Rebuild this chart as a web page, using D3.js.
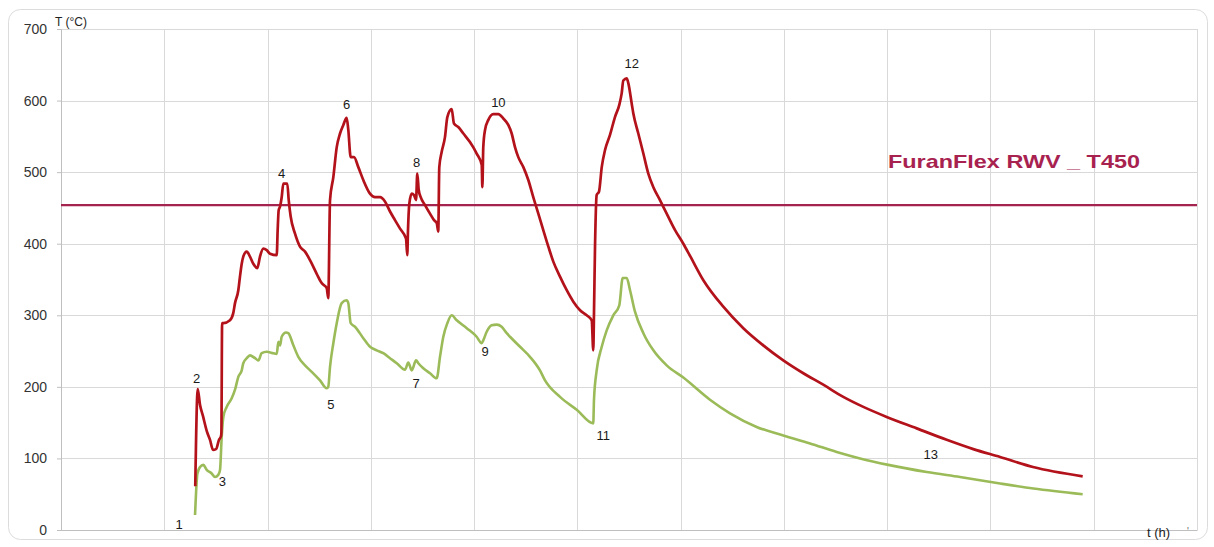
<!DOCTYPE html>
<html>
<head>
<meta charset="utf-8">
<script src="https://cdn.jsdelivr.net/npm/d3@7"></script>
<style>
  html, body { margin: 0; padding: 0; background: #ffffff; }
  svg { display: block; font-family: "Liberation Sans", Arial, sans-serif; }
</style>
</head>
<body>
<svg id="chart" width="1214" height="547"></svg>
<script>
// ---- data (t in hours, T in °C) ----
const redT = [1.30,1.324,1.346,1.375,1.414,1.443,1.472,1.501,1.530,1.549,1.553,1.560,1.572,1.636,1.668,1.685,1.717,1.733,1.750,1.765,1.798,1.830,1.862,1.901,1.927,1.959,1.992,2.024,2.089,2.098,2.108,2.121,2.137,2.153,2.191,2.205,2.224,2.266,2.314,2.363,2.411,2.476,2.524,2.573,2.588,2.605,2.637,2.670,2.702,2.734,2.766,2.782,2.805,2.837,2.879,2.927,2.992,3.040,3.089,3.137,3.186,3.234,3.283,3.341,3.353,3.360,3.373,3.396,3.418,3.438,3.450,3.464,3.483,3.525,3.573,3.612,3.638,3.653,3.663,3.686,3.718,3.741,3.783,3.805,3.847,3.896,3.960,4.025,4.074,4.080,4.089,4.106,4.138,4.186,4.235,4.283,4.331,4.364,4.396,4.428,4.477,4.525,4.573,4.622,4.670,4.719,4.767,4.832,4.897,4.961,5.026,5.090,5.139,5.154,5.161,5.171,5.187,5.210,5.236,5.268,5.316,5.364,5.406,5.429,5.445,5.478,5.494,5.526,5.542,5.590,5.639,5.687,5.736,5.800,5.865,5.946,6.026,6.091,6.220,6.413,6.607,6.800,6.994,7.188,7.381,7.575,7.769,7.995,8.286,8.576,8.834,9.093,9.412,9.893];
const redV = [61,197,175,159,137,126,112,113,126,131,135,289,289,293,303,317,335,354,372,382,389,382,372,366,382,393,391,386,384,419,447,452,465,484,484,461,438,414,396,389,377,358,345,338,324,461,493,535,554,566,576,559,521,521,507,489,470,465,465,459,445,433,421,407,384,419,456,470,468,461,498,475,465,454,442,433,429,417,507,528,549,577,588,568,563,554,542,526,510,479,535,559,573,581,581,575,566,554,535,521,507,489,465,442,419,396,375,354,335,319,307,300,293,251,303,396,468,473,507,531,552,577,594,610,628,631,624,596,582,554,526,498,479,461,442,419,400,383,349,312,282,258,237,219,203,186,172,158,142,126,113,102,88,75];

const greenT = [1.298,1.321,1.346,1.378,1.411,1.459,1.491,1.523,1.540,1.556,1.572,1.604,1.653,1.685,1.717,1.750,1.765,1.798,1.830,1.879,1.911,1.943,1.992,2.056,2.089,2.105,2.121,2.137,2.179,2.201,2.250,2.298,2.363,2.428,2.508,2.573,2.588,2.605,2.637,2.670,2.718,2.766,2.782,2.805,2.847,2.927,2.992,3.057,3.121,3.186,3.251,3.331,3.363,3.396,3.438,3.460,3.508,3.573,3.638,3.670,3.702,3.741,3.783,3.832,3.929,4.025,4.074,4.089,4.122,4.170,4.219,4.267,4.316,4.348,4.445,4.541,4.638,4.687,4.832,4.994,5.154,5.161,5.187,5.236,5.284,5.348,5.406,5.439,5.478,5.510,5.558,5.639,5.736,5.865,6.026,6.284,6.478,6.736,6.994,7.253,7.511,7.737,8.011,8.383,8.705,9.093,9.415,9.893];
const greenV = [21,79,88,91,84,79,74,77,84,130,158,172,184,196,214,223,233,240,244,240,237,247,249,247,246,263,258,270,276,275,258,242,230,221,209,198,200,228,261,289,317,321,317,289,284,268,256,251,247,240,233,224,234,223,237,233,226,219,212,242,270,289,300,293,282,270,261,265,277,286,287,284,275,270,256,242,223,209,186,168,149,182,223,256,279,300,314,352,352,335,305,275,251,230,213,182,163,144,132,121,109,100,91,81,74,65,58,50];

const threshold = 454;
const thresholdName = "FuranFlex RWV _ T450";

const yTicks = [0,100,200,300,400,500,600,700];
const xGrid = [0,1,2,3,4,5,6,7,8,9,10,11];

const labelText = ["1","2","3","4","5","6","7","8","9","10","11","12","13"];
const labelT    = [1.143,1.314,1.562,2.137,2.612,2.766,3.438,3.444,4.106,4.235,5.251,5.526,8.422];
const labelV    = [8,212,68,498,176,595,204,514,249,598,132,652,105];

const yTitle = "T (°C)";
const xTitle = "t (h)";

// ---- drawing ----
const svg = d3.select("#chart");
const x = d3.scaleLinear().domain([0, 11]).range([61, 1197]);
const y = d3.scaleLinear().domain([0, 700]).range([530, 29]);

// outer rounded frame
svg.append("rect")
  .attr("x", 8.5).attr("y", 9.5).attr("width", 1199).attr("height", 530)
  .attr("rx", 12).attr("ry", 12)
  .attr("fill", "#ffffff").attr("stroke", "#dcdcdc").attr("stroke-width", 1);

// horizontal grid
svg.append("g").selectAll("line").data(yTicks).join("line")
  .attr("x1", x(0)).attr("x2", x(11))
  .attr("y1", d => Math.round(y(d)) + 0.5).attr("y2", d => Math.round(y(d)) + 0.5)
  .attr("stroke", "#d9d9d9").attr("stroke-width", 1);

// vertical grid
svg.append("g").selectAll("line").data(xGrid).join("line")
  .attr("x1", d => Math.round(x(d)) + 0.5).attr("x2", d => Math.round(x(d)) + 0.5)
  .attr("y1", y(700)).attr("y2", y(0))
  .attr("stroke", "#d9d9d9").attr("stroke-width", 1);

// left axis with tick labels
const yAxis = d3.axisLeft(y).tickValues(yTicks).tickSize(4).tickPadding(10);
const gy = svg.append("g").attr("transform", `translate(${x(0)},0)`).call(yAxis);
gy.select(".domain").attr("stroke", "#bfbfbf");
gy.selectAll(".tick line").attr("stroke", "#bfbfbf");
gy.selectAll(".tick text").attr("font-size", 14).attr("fill", "#333")
  .attr("font-family", "Liberation Sans, Arial, sans-serif");

// bottom axis line
const xAxis = d3.axisBottom(x).tickValues([]).tickSizeOuter(0);
const gx = svg.append("g").attr("transform", `translate(0,${y(0)})`).call(xAxis);
gx.select(".domain").attr("stroke", "#bfbfbf");

// axis titles
svg.append("text").attr("x", 55).attr("y", 26).attr("font-size", 12).attr("fill", "#222")
  .text(yTitle);
svg.append("text").attr("x", 1147).attr("y", 537).attr("font-size", 13).attr("fill", "#222")
  .text(xTitle);
svg.append("text").attr("x", 1187).attr("y", 535).attr("font-size", 10).attr("fill", "#666")
  .text("'");

// threshold line
svg.append("line")
  .attr("x1", x(0)).attr("x2", x(11))
  .attr("y1", y(threshold)).attr("y2", y(threshold))
  .attr("stroke", "#a4234f").attr("stroke-width", 2.2);
svg.append("text")
  .attr("x", x(8.008)).attr("y", y(506))
  .attr("font-size", 19).attr("font-weight", "bold").attr("fill", "#a82250")
  .attr("textLength", 252).attr("lengthAdjust", "spacingAndGlyphs")
  .text(thresholdName);

// series lines
const line = d3.line().curve(d3.curveMonotoneX).x(d => x(d[0])).y(d => y(d[1]));
const green = greenT.map((t, i) => [t, greenV[i]]);
const red = redT.map((t, i) => [t, redV[i]]);

svg.append("path").datum(green).attr("d", line)
  .attr("fill", "none").attr("stroke", "#9bbb59").attr("stroke-width", 2.6)
  .attr("stroke-linejoin", "round");
svg.append("path").datum(red).attr("d", line)
  .attr("fill", "none").attr("stroke", "#b3121b").attr("stroke-width", 2.7)
  .attr("stroke-linejoin", "round");

// point labels
svg.append("g").selectAll("text").data(labelText).join("text")
  .attr("x", (d, i) => x(labelT[i])).attr("y", (d, i) => y(labelV[i]))
  .attr("text-anchor", "middle").attr("dominant-baseline", "central")
  .attr("font-size", 13).attr("fill", "#1a1a1a")
  .text(d => d);
</script>
</body>
</html>
